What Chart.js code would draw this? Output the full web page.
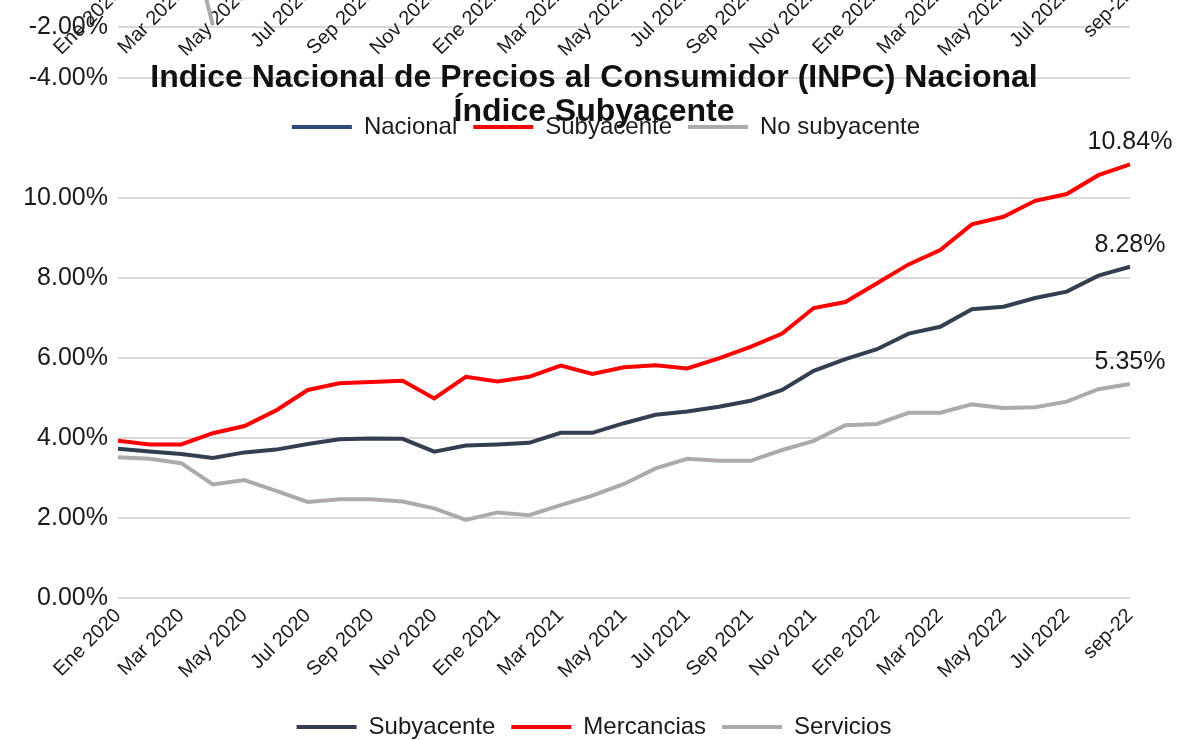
<!DOCTYPE html>
<html>
<head>
<meta charset="utf-8">
<script src="https://cdn.jsdelivr.net/npm/chart.js@4.4.0/dist/chart.umd.min.js"></script>
<style>
  html, body { margin: 0; padding: 0; background: #fff; }
  #wrap { position: relative; width: 1178px; height: 740px; overflow: hidden; }
  #inpc { position: absolute; left: 0; top: -150px; }
  #subyacente { position: absolute; left: 0; top: 0; }
</style>
</head>
<body>
<div id="wrap">
  <canvas id="inpc" width="1178" height="300"></canvas>
  <canvas id="subyacente" width="1178" height="749"></canvas>
</div>
<script>
const meses = ['Ene 2020', 'Feb 2020', 'Mar 2020', 'Abr 2020', 'May 2020', 'Jun 2020', 'Jul 2020', 'Ago 2020', 'Sep 2020', 'Oct 2020', 'Nov 2020', 'Dic 2020',
  'Ene 2021', 'Feb 2021', 'Mar 2021', 'Abr 2021', 'May 2021', 'Jun 2021', 'Jul 2021', 'Ago 2021', 'Sep 2021', 'Oct 2021', 'Nov 2021', 'Dic 2021',
  'Ene 2022', 'Feb 2022', 'Mar 2022', 'Abr 2022', 'May 2022', 'Jun 2022', 'Jul 2022', 'Ago 2022', 'sep-22'];

// Índice subyacente (variación anual, %)
const subyacente = [3.73, 3.66, 3.60, 3.50, 3.64, 3.71, 3.85, 3.97, 3.99, 3.98, 3.66, 3.81, 3.84, 3.88, 4.13, 4.13, 4.37, 4.58, 4.66, 4.78, 4.93, 5.20, 5.68, 5.97, 6.22, 6.61, 6.78, 7.22, 7.28, 7.50, 7.66, 8.06, 8.28];
const mercancias = [3.93, 3.84, 3.84, 4.12, 4.30, 4.69, 5.20, 5.37, 5.40, 5.43, 4.99, 5.53, 5.41, 5.53, 5.81, 5.60, 5.77, 5.82, 5.74, 5.99, 6.28, 6.61, 7.25, 7.40, 7.87, 8.34, 8.70, 9.34, 9.53, 9.93, 10.10, 10.57, 10.84];
const servicios = [3.52, 3.48, 3.37, 2.84, 2.95, 2.68, 2.40, 2.47, 2.47, 2.41, 2.24, 1.95, 2.14, 2.07, 2.32, 2.56, 2.85, 3.24, 3.48, 3.43, 3.43, 3.70, 3.93, 4.32, 4.35, 4.63, 4.63, 4.84, 4.75, 4.77, 4.91, 5.22, 5.35];
const ticksSubyacente = [0, 2, 4, 6, 8, 10];

// INPC nacional: solo se ve la parte baja de esta gráfica
const nacional = [];
const noSubyacente = [null, null, 3.0, -1.92];
const ticksInpc = [-4, -2, 0, 2, 4];

Chart.defaults.font.family = '"Liberation Sans", Arial, sans-serif';
Chart.defaults.color = '#1a1a1a';

const NAVY = '#333f50';
const RED = '#ff0000';
const GREY = '#aeaaaa';
const GRID = '#d9d9d9';

const pct = (v) => Number(v).toFixed(2) + '%';

// etiqueta con el último valor de cada serie
const etiquetaFinal = {
  id: 'etiquetaFinal',
  afterDatasetsDraw(chart) {
    const ctx = chart.ctx;
    ctx.save();
    ctx.font = '25px "Liberation Sans", Arial, sans-serif';
    ctx.fillStyle = '#1a1a1a';
    ctx.textAlign = 'center';
    ctx.textBaseline = 'middle';
    chart.data.datasets.forEach((ds, i) => {
      const meta = chart.getDatasetMeta(i);
      const last = meta.data[meta.data.length - 1];
      ctx.fillText(pct(ds.data[ds.data.length - 1]), last.x, last.y - 22);
    });
    ctx.restore();
  }
};

// mueve leyenda y título hacia la derecha (el eje Y ocupa todo el margen izquierdo)
const desplazarCentro = {
  id: 'desplazarCentro',
  afterLayout(chart, args, opts) {
    [chart.legend, chart.titleBlock].forEach(box => {
      if (box) {
        box.left += opts.dx;
        box.right += opts.dx;
      }
    });
  }
};

const lineSet = (label, data, color) => ({
  label: label,
  data: data,
  borderColor: color,
  backgroundColor: color,
  borderWidth: 4,
  pointRadius: 0,
  tension: 0,
  spanGaps: false
});

const legendLabels = {
  boxWidth: 60,
  boxHeight: 0,
  padding: 16,
  color: '#1a1a1a',
  font: { size: 24 }
};

const xTicks = {
  autoSkip: false,
  maxRotation: 45,
  minRotation: 45,
  padding: 6,
  color: '#1a1a1a',
  font: { size: 20 },
  callback: function(value, index) {
    return index % 2 === 0 ? meses[index] : ''; // una etiqueta cada dos meses
  }
};

// gráfica de fondo (INPC nacional), desplazada hacia arriba
new Chart(document.getElementById('inpc'), {
  type: 'line',
  data: {
    labels: meses,
    datasets: [
      lineSet('Nacional', nacional, '#2f4b7c'),
      lineSet('Subyacente', subyacente, RED),
      lineSet('No subyacente', noSubyacente, GREY)
    ]
  },
  plugins: [desplazarCentro],
  options: {
    responsive: false,
    animation: false,
    layout: { padding: { top: 15, left: 0, right: 48, bottom: 1 } },
    scales: {
      x: {
        position: { y: 0 },
        grid: { display: false, drawTicks: false },
        border: { display: false },
        ticks: xTicks
      },
      y: {
        min: -4,
        max: 4,
        afterBuildTicks: (scale) => { scale.ticks = ticksInpc.map(v => ({ value: v })); },
        afterFit: (scale) => { scale.width = 118; },
        grid: { color: GRID, lineWidth: 2, drawTicks: false },
        border: { display: false },
        ticks: { padding: 10, color: '#1a1a1a', font: { size: 25 }, callback: pct }
      }
    },
    plugins: {
      desplazarCentro: { dx: 41 },
      legend: {
        position: 'bottom',
        title: { display: true, text: '', padding: 0, font: { size: 18, lineHeight: '21px' } },
        labels: legendLabels
      },
      tooltip: { enabled: false }
    }
  }
});

// gráfica principal: índice subyacente
new Chart(document.getElementById('subyacente'), {
  type: 'line',
  data: {
    labels: meses,
    datasets: [
      lineSet('Subyacente', subyacente, NAVY),
      lineSet('Mercancias', mercancias, RED),
      lineSet('Servicios', servicios, GREY)
    ]
  },
  plugins: [etiquetaFinal, desplazarCentro],
  options: {
    responsive: false,
    animation: false,
    layout: { padding: { top: 0, left: 0, right: 48, bottom: 0 } },
    scales: {
      x: {
        grid: { display: false, drawTicks: false },
        border: { display: false },
        ticks: xTicks,
        afterFit: (scale) => { scale.height = 101; }
      },
      y: {
        min: 0,
        max: 11,
        afterBuildTicks: (scale) => { scale.ticks = ticksSubyacente.map(v => ({ value: v })); },
        afterFit: (scale) => { scale.width = 118; },
        grid: { color: GRID, lineWidth: 2, drawTicks: false },
        border: { display: false },
        ticks: { padding: 10, color: '#1a1a1a', font: { size: 25 }, callback: pct }
      }
    },
    plugins: {
      desplazarCentro: { dx: 29 },
      title: {
        display: true,
        text: ['Indice Nacional de Precios al Consumidor (INPC) Nacional', 'Índice Subyacente'],
        color: '#111',
        font: { size: 32, weight: 'bold', lineHeight: '34px' },
        padding: { top: 61, bottom: 29 }
      },
      legend: { position: 'bottom', labels: legendLabels },
      tooltip: { enabled: false }
    }
  }
});
</script>
</body>
</html>
